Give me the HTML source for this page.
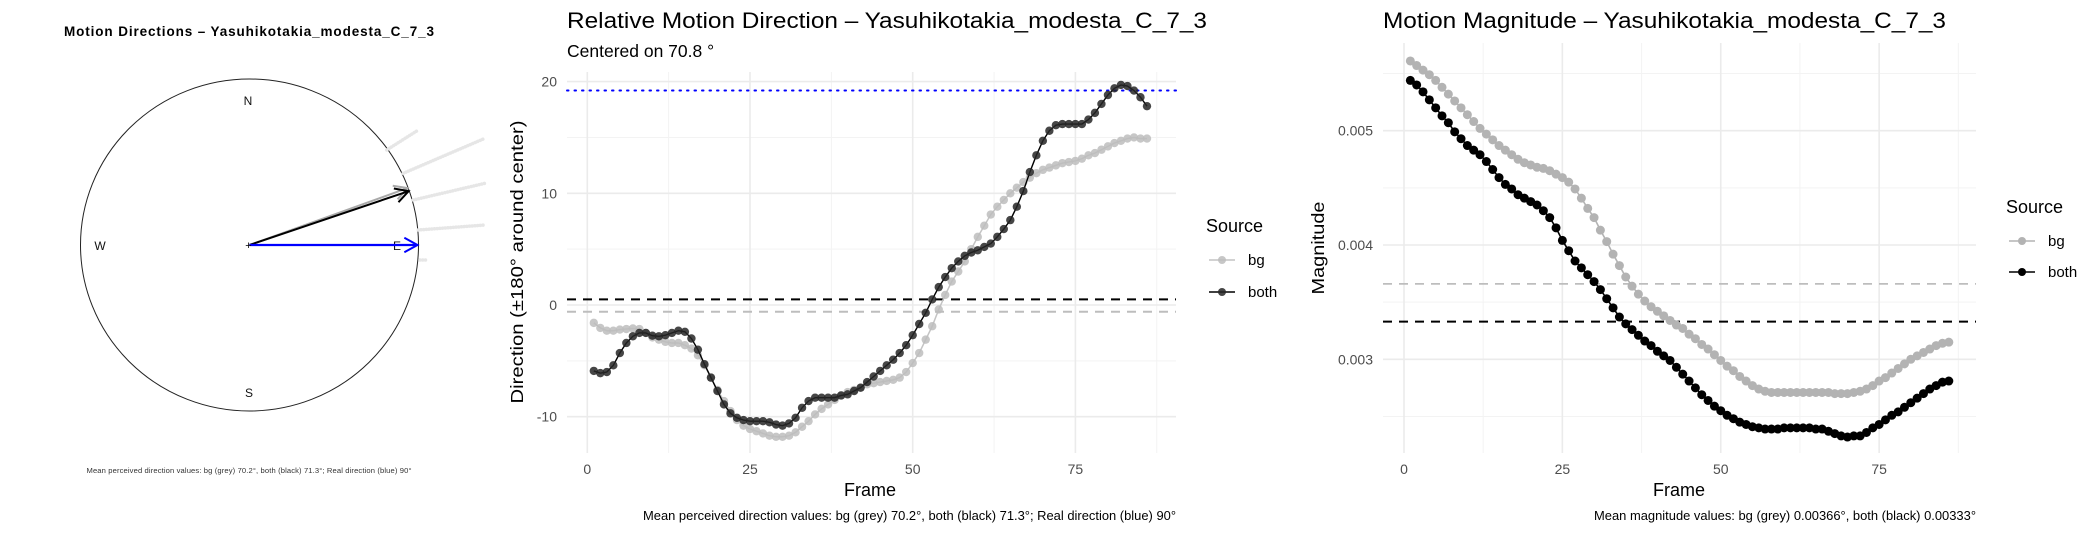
<!DOCTYPE html>
<html><head><meta charset="utf-8"><style>
html,body{margin:0;padding:0;background:#fff;}
svg{display:block;font-family:"Liberation Sans",Arial,sans-serif;}
</style></head><body>
<svg id="root" width="2100" height="533" viewBox="0 0 2100 533" xmlns="http://www.w3.org/2000/svg">
<rect width="2100" height="533" fill="#fff"/>
<!-- Panel 1: compass -->
<g id="compass">
  <text x="249" y="36" text-anchor="middle" font-size="13.5" font-weight="bold" textLength="370">Motion Directions – Yasuhikotakia_modesta_C_7_3</text>
  <ellipse cx="249.5" cy="245" rx="169" ry="166" fill="none" stroke="#222" stroke-width="1"/>
  <g stroke="#e6e6e6" stroke-width="3.5" stroke-linecap="round" stroke-dasharray="0.1 2.6" fill="none">
    <line x1="386.7" y1="150" x2="418.3" y2="130"/>
    <line x1="403.3" y1="173.3" x2="485" y2="138.3"/>
    <line x1="413.3" y1="200" x2="485" y2="183.3"/>
    <line x1="418.3" y1="230" x2="485" y2="225"/>
    <line x1="420" y1="260" x2="428" y2="260"/>
  </g>
  <text x="248" y="105" text-anchor="middle" font-size="12" fill="#111">N</text>
  <text x="249" y="397" text-anchor="middle" font-size="12" fill="#111">S</text>
  <text x="100" y="250" text-anchor="middle" font-size="12" fill="#111">W</text>
  <text x="397" y="250" text-anchor="middle" font-size="12" fill="#111">E</text>
  <g id="arrows"></g>
  <text x="249" y="473" text-anchor="middle" font-size="7.6" fill="#333" textLength="325">Mean perceived direction values: bg (grey) 70.2°, both (black) 71.3°; Real direction (blue) 90°</text>
</g>
<text x="567" y="57" font-size="17.5" fill="#000">Centered on  70.8 °</text>
<g id="dirPanel"></g>
<g id="magPanel"></g>
</svg>
<script>
// ---------- data ----------
const dirBg = [-1.6,-2.05,-2.3,-2.3,-2.2,-2.15,-2.1,-2.15,-2.5,-2.9,
-3.1,-3.3,-3.4,-3.4,-3.6,-3.9,-4.5,-5.4,-6.5,-7.6,
-8.6,-9.5,-10.3,-10.8,-11.1,-11.3,-11.5,-11.7,-11.8,-11.8,
-11.7,-11.4,-10.9,-10.4,-9.8,-9.3,-8.9,-8.5,-8.1,-7.8,
-7.6,-7.4,-7.1,-7.0,-6.9,-6.8,-6.7,-6.5,-6.0,-5.2,
-4.3,-3.1,-1.9,-0.4,0.9,2.1,3.0,3.9,5.0,6.1,
7.1,8.1,8.8,9.4,10.0,10.5,11.0,11.4,11.8,12.1,
12.3,12.5,12.7,12.8,12.9,13.1,13.4,13.6,13.9,14.2,
14.5,14.7,14.9,15.0,14.9,14.9];
const dirBoth = [-5.9,-6.1,-6.0,-5.4,-4.3,-3.4,-2.8,-2.5,-2.5,-2.75,
-2.8,-2.7,-2.5,-2.3,-2.4,-3.0,-4.0,-5.3,-6.5,-7.7,
-8.9,-9.7,-10.1,-10.3,-10.4,-10.4,-10.4,-10.5,-10.7,-10.8,
-10.6,-10.1,-9.2,-8.6,-8.3,-8.3,-8.3,-8.3,-8.1,-8.0,
-7.7,-7.4,-6.9,-6.4,-5.9,-5.4,-4.9,-4.3,-3.6,-2.7,
-1.7,-0.7,0.5,1.6,2.5,3.3,3.9,4.4,4.7,4.9,
5.2,5.5,6.1,6.8,7.6,8.8,10.2,11.9,13.4,14.7,
15.6,16.1,16.2,16.2,16.2,16.2,16.6,17.2,18.0,18.8,
19.4,19.7,19.6,19.2,18.6,17.8];
const dirRefLines = [19.2, 0.5, -0.6]; // real (blue), both mean, bg mean
const dirYTicks = [-10, 0, 10, 20];
const dirYTickLabels = ["-10", "0", "10", "20"];
const xTicks = [0, 25, 50, 75];
const xTickLabels = ["0", "25", "50", "75"];
// magnitude in units of 1e-3
const magBg = [5.61,5.57,5.53,5.49,5.44,5.38,5.32,5.26,5.20,5.14,
5.08,5.02,4.97,4.92,4.87,4.83,4.79,4.75,4.72,4.70,
4.68,4.67,4.65,4.62,4.59,4.55,4.49,4.41,4.32,4.24,
4.13,4.03,3.92,3.82,3.72,3.64,3.57,3.51,3.46,3.42,
3.38,3.34,3.30,3.27,3.22,3.18,3.13,3.09,3.04,2.99,
2.94,2.90,2.85,2.81,2.77,2.74,2.72,2.71,2.71,2.71,
2.71,2.71,2.71,2.71,2.71,2.71,2.71,2.70,2.70,2.70,
2.71,2.72,2.74,2.77,2.81,2.84,2.88,2.92,2.96,3.00,
3.03,3.06,3.09,3.12,3.14,3.15];
const magBoth = [5.44,5.40,5.34,5.27,5.20,5.13,5.07,4.99,4.93,4.87,
4.83,4.79,4.73,4.66,4.59,4.53,4.49,4.44,4.41,4.38,
4.35,4.30,4.24,4.15,4.04,3.95,3.86,3.80,3.74,3.68,
3.61,3.53,3.45,3.37,3.31,3.26,3.21,3.16,3.12,3.07,
3.03,2.99,2.93,2.87,2.81,2.75,2.69,2.64,2.59,2.55,
2.51,2.48,2.45,2.43,2.41,2.40,2.39,2.39,2.39,2.40,
2.40,2.40,2.40,2.40,2.39,2.39,2.37,2.35,2.33,2.32,
2.33,2.33,2.36,2.40,2.43,2.47,2.51,2.54,2.58,2.62,
2.66,2.70,2.74,2.77,2.80,2.81];
const magMeans = [3.66, 3.33]; // bg, both
const magYTicks = [3, 4, 5];
const magYTickLabels = ["0.003", "0.004", "0.005"];
const compassAngles = [70.2, 71.3, 90]; // bg, both, real (bearing degrees)

const NS = "http://www.w3.org/2000/svg";
function mk(tag, attrs, parent) {
  const e = document.createElementNS(NS, tag);
  for (const k in attrs) e.setAttribute(k, attrs[k]);
  if (parent) parent.appendChild(e);
  return e;
}
function txt(parent, x, y, s, size, fill, anchor, extra) {
  const t = mk("text", Object.assign({x:x, y:y, "font-size":size, fill:fill, "text-anchor":anchor||"start"}, extra||{}), parent);
  t.textContent = s;
  return t;
}

// ---------- compass arrows ----------
(function(){
  const g = document.getElementById("arrows");
  const cx = 249.5, cy = 245, r = 168;
  const cols = ["#aaaaaa", "#000000", "#0000ff"];
  const names = ["bg-direction-arrow", "both-direction-arrow", "real-direction-arrow"];
  for (let i = 0; i < compassAngles.length; i++) {
    const rad = (90 - compassAngles[i]) * Math.PI / 180;
    const tx = cx + r * Math.cos(rad), ty = cy - r * Math.sin(rad);
    const arr = mk("g", {}, g);
    
    
    mk("line", {x1:cx, y1:cy, x2:tx, y2:ty, stroke:cols[i], "stroke-width": i===2?2.2:2}, arr);
    const ang = Math.atan2(ty - cy, tx - cx);
    const hl = 15, hw = 0.5;
    mk("polyline", {points: `${tx-hl*Math.cos(ang-hw)},${ty-hl*Math.sin(ang-hw)} ${tx},${ty} ${tx-hl*Math.cos(ang+hw)},${ty-hl*Math.sin(ang+hw)}`, fill:"none", stroke:cols[i], "stroke-width":2}, arr);
  }
  txt(g, cx-1, cy+4, "+", 11, "#000", "middle");
})();

// ---------- generic panel ----------
function panel(cfg) {
  const g = document.getElementById(cfg.id);
  const X = v => cfg.x0 + v * cfg.xs;
  const Y = v => cfg.yRef + (cfg.vRef - v) * cfg.ys;
  const grid = mk("g", {}, g);
  
  
  cfg.yMinor.forEach(v => mk("line", {x1:cfg.L, x2:cfg.R, y1:Y(v), y2:Y(v), stroke:"#f3f3f3", "stroke-width":1}, grid));
  [12.5, 37.5, 62.5, 87.5].forEach(v => mk("line", {x1:X(v), x2:X(v), y1:cfg.T, y2:cfg.B, stroke:"#f3f3f3", "stroke-width":1}, grid));
  cfg.yTicks.forEach(v => mk("line", {x1:cfg.L, x2:cfg.R, y1:Y(v), y2:Y(v), stroke:"#ebebeb", "stroke-width":1.6}, grid));
  xTicks.forEach(v => mk("line", {x1:X(v), x2:X(v), y1:cfg.T, y2:cfg.B, stroke:"#ebebeb", "stroke-width":1.6}, grid));
  cfg.yTicks.forEach((v, i) => {
    const t = txt(g, cfg.L - 10, Y(v) + 5, cfg.yLabels[i], 14, "#4d4d4d", "end");
    
    
  });
  xTicks.forEach((v, i) => {
    const t = txt(g, X(v), 474, xTickLabels[i], 14, "#4d4d4d", "middle");
    
    
  });
  cfg.refs(g, Y);
  cfg.series.forEach(s => {
    const sg = mk("g", {}, g);
    
    
    const pts = s.data.map((v, i) => X(i + 1) + "," + Y(v)).join(" ");
    mk("polyline", {points:pts, fill:"none", stroke:s.line, "stroke-width":s.lw}, sg);
    s.data.forEach((v, i) => {
      const c = mk("circle", {cx:X(i + 1), cy:Y(v), r:s.r, fill:s.pt, "fill-opacity":s.op}, sg);
      
      
    });
  });
  const tt = txt(g, cfg.L, 28, cfg.title, 22, "#000", "start", {textLength:cfg.titleLen, lengthAdjust:"spacingAndGlyphs"});
  
  
  const xt = txt(g, cfg.frameX, 496, "Frame", 18, "#000", "middle");
  
  
  const yt = txt(g, 0, 0, cfg.yTitle, 17.5, "#000", "middle", {transform:`translate(${cfg.yTitleX},${cfg.yTitleY}) rotate(-90)`, textLength:cfg.yTitleLen, lengthAdjust:"spacingAndGlyphs"});
  
  
  const ft = txt(g, cfg.R, 520, cfg.footer, 12.5, "#000", "end", {textLength:cfg.footerLen, lengthAdjust:"spacingAndGlyphs"});
  
  
  const lg = mk("g", {}, g);
  
  
  txt(lg, cfg.legX, cfg.legY, "Source", 18, "#000");
  cfg.series.forEach((s, i) => {
    const e = mk("g", {}, lg);
    
    
    const yy = cfg.legY + 28 + i * cfg.legGap;
    mk("line", {x1:cfg.legX + 3, x2:cfg.legX + 29, y1:yy, y2:yy, stroke:s.line, "stroke-width":1.6}, e);
    mk("circle", {cx:cfg.legX + 16, cy:yy, r:4, fill:s.pt, "fill-opacity":s.op}, e);
    txt(e, cfg.legX + 42, yy + 5, s.name, 15, "#000");
  });
}

panel({
  id:"dirPanel", prefix:"direction",
  L:567, R:1176, T:72, B:453,
  x0:587.3, xs:6.508, yRef:305, vRef:0, ys:11.17,
  yTicks:dirYTicks, yLabels:dirYTickLabels, yMinor:[-5, 5, 15],
  title:"Relative Motion Direction – Yasuhikotakia_modesta_C_7_3", titleLen:640,
  frameX:870, yTitle:"Direction (±180° around center)", yTitleX:523, yTitleY:262, yTitleLen:283,
  footer:"Mean perceived direction values: bg (grey) 70.2°, both (black) 71.3°; Real direction (blue) 90°", footerLen:533,
  legX:1206, legY:232, legGap:32,
  refs:function(g, Y){
    const a = mk("line", {x1:567, x2:1176, y1:Y(dirRefLines[0]), y2:Y(dirRefLines[0]), stroke:"#0000ff", "stroke-width":2, "stroke-dasharray":"1.5 6", "stroke-linecap":"round"}, g);
    
    
    const b = mk("line", {x1:567, x2:1176, y1:Y(dirRefLines[1]), y2:Y(dirRefLines[1]), stroke:"#000", "stroke-width":2, "stroke-dasharray":"9 7"}, g);
    
    
    const c = mk("line", {x1:567, x2:1176, y1:Y(dirRefLines[2]), y2:Y(dirRefLines[2]), stroke:"#bdbdbd", "stroke-width":2, "stroke-dasharray":"9 7"}, g);
    
    
  },
  series:[
    {name:"bg", data:dirBg, line:"#c4c4c4", lw:1.5, pt:"#bdbdbd", op:0.85, r:4.2},
    {name:"both", data:dirBoth, line:"#000", lw:1.4, pt:"#262626", op:0.85, r:4.2}
  ]
});

panel({
  id:"magPanel", prefix:"magnitude",
  L:1383, R:1976, T:43, B:453,
  x0:1404, xs:6.335, yRef:245, vRef:4, ys:114.3,
  yTicks:magYTicks, yLabels:magYTickLabels, yMinor:[2.5, 3.5, 4.5, 5.5],
  title:"Motion Magnitude – Yasuhikotakia_modesta_C_7_3", titleLen:563,
  frameX:1679, yTitle:"Magnitude", yTitleX:1324, yTitleY:248, yTitleLen:93,
  footer:"Mean magnitude values: bg (grey) 0.00366°, both (black) 0.00333°", footerLen:382,
  legX:2006, legY:213, legGap:31,
  refs:function(g, Y){
    const c = mk("line", {x1:1383, x2:1976, y1:Y(magMeans[0]), y2:Y(magMeans[0]), stroke:"#bdbdbd", "stroke-width":1.8, "stroke-dasharray":"9 7"}, g);
    
    
    const b = mk("line", {x1:1383, x2:1976, y1:Y(magMeans[1]), y2:Y(magMeans[1]), stroke:"#000", "stroke-width":2, "stroke-dasharray":"9 7"}, g);
    
    
  },
  series:[
    {name:"bg", data:magBg, line:"#b3b3b3", lw:1.6, pt:"#b3b3b3", op:1, r:4.5},
    {name:"both", data:magBoth, line:"#000", lw:1.6, pt:"#000", op:1, r:4.5}
  ]
});
</script>
</body></html>
